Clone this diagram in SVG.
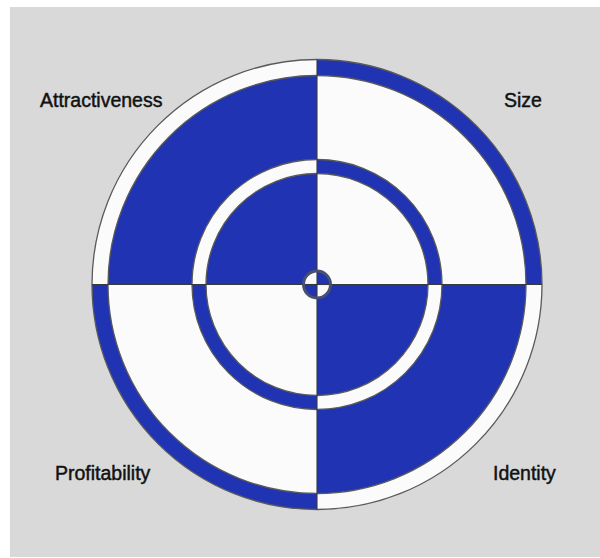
<svg xmlns="http://www.w3.org/2000/svg" width="600" height="558" viewBox="0 0 600 558">
<style>
.b{fill:#1f33b3}
.w{fill:#fbfbfb}
.o{fill:none;stroke:#5a5a5a;stroke-width:1.3}
.x{stroke:#3a3a3a;stroke-width:1.1}
.t{font-family:"Liberation Sans",Arial,sans-serif;font-size:19.5px;fill:#111;stroke:#111;stroke-width:0.45}
</style>
<rect x="0" y="0" width="600" height="558" fill="#ffffff"/>
<rect x="10" y="7" width="590" height="550" fill="#d9d9d9"/>
<g id="target" transform="translate(317,284.5)">
  <circle r="225" class="w"/>
  <path class="b" d="M0,0 L0,-225 A225,225 0 0 1 225,0 Z"/>
  <path class="b" d="M0,0 L0,225 A225,225 0 0 1 -225,0 Z"/>
  <circle r="225" class="o"/>
  <circle r="209" class="b"/>
  <path class="w" d="M0,0 L0,-209 A209,209 0 0 1 209,0 Z"/>
  <path class="w" d="M0,0 L0,209 A209,209 0 0 1 -209,0 Z"/>
  <circle r="209" class="o" stroke-width="0.8"/>
  <circle r="125" class="w"/>
  <path class="b" d="M0,0 L0,-125 A125,125 0 0 1 125,0 Z"/>
  <path class="b" d="M0,0 L0,125 A125,125 0 0 1 -125,0 Z"/>
  <circle r="125" class="o" stroke-width="1"/>
  <circle r="111" class="b"/>
  <path class="w" d="M0,0 L0,-111 A111,111 0 0 1 111,0 Z"/>
  <path class="w" d="M0,0 L0,111 A111,111 0 0 1 -111,0 Z"/>
  <circle r="111" class="o" stroke-width="1"/>
  <line class="x" x1="-225" y1="0" x2="225" y2="0"/>
  <line class="x" x1="0" y1="-225" x2="0" y2="225"/>
  <circle r="13" class="w"/>
  <path class="b" d="M0,0 L0,-13 A13,13 0 0 1 13,0 Z"/>
  <path class="b" d="M0,0 L0,13 A13,13 0 0 1 -13,0 Z"/>
  <line class="x" x1="-13" y1="0" x2="13" y2="0"/>
  <line class="x" x1="0" y1="-13" x2="0" y2="13"/>
  <circle r="13.5" fill="none" stroke="#4a4f6e" stroke-width="3"/>
</g>
<g id="labels">
  <text class="t" x="40" y="107">Attractiveness</text>
  <text class="t" x="504" y="107">Size</text>
  <text class="t" x="55" y="480">Profitability</text>
  <text class="t" x="493" y="480">Identity</text>
</g>
</svg>
